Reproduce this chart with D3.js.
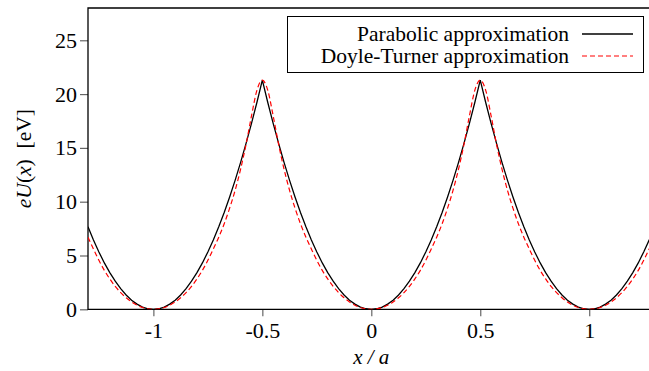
<!DOCTYPE html>
<html>
<head>
<meta charset="utf-8">
<script src="https://cdn.jsdelivr.net/npm/d3@7"></script>
<style>
  body { margin: 0; background: #fff; }
  svg text { font-family: "Liberation Serif", "DejaVu Serif", serif; fill: #000; }
</style>
</head>
<body>
<svg id="chart" width="649" height="371"></svg>
<script>
// sample grid x/a from -1.3 to 1.3, step 0.025
let xs = d3.range(0, 105).map(i => +(-1.3 + i * 0.025).toFixed(3));

// values, eV
let parabolic = [
  7.67, 6.44, 5.33, 4.31, 3.41, 2.61, 1.92, 1.33, 0.85, 0.48, 0.21, 0.05, 0,
  0.05, 0.21, 0.48, 0.85, 1.33, 1.92, 2.61, 3.41, 4.31, 5.33, 6.44, 7.67, 9.0, 10.44, 11.98, 13.63, 15.39, 17.25, 19.22, 21.3,
  19.22, 17.25, 15.39, 13.63, 11.98, 10.44, 9.0, 7.67, 6.44, 5.33, 4.31, 3.41, 2.61, 1.92, 1.33, 0.85, 0.48, 0.21, 0.05, 0,
  0.05, 0.21, 0.48, 0.85, 1.33, 1.92, 2.61, 3.41, 4.31, 5.33, 6.44, 7.67, 9.0, 10.44, 11.98, 13.63, 15.39, 17.25, 19.22, 21.3,
  19.22, 17.25, 15.39, 13.63, 11.98, 10.44, 9.0, 7.67, 6.44, 5.33, 4.31, 3.41, 2.61, 1.92, 1.33, 0.85, 0.48, 0.21, 0.05, 0,
  0.05, 0.21, 0.48, 0.85, 1.33, 1.92, 2.61, 3.41, 4.31, 5.33, 6.44, 7.67
];
let doyleTurner = [
  6.7, 5.6, 4.55, 3.62, 2.82, 2.13, 1.55, 1.07, 0.68, 0.38, 0.17, 0.04, 0,
  0.04, 0.17, 0.38, 0.68, 1.07, 1.55, 2.13, 2.82, 3.62, 4.55, 5.6, 6.7, 7.95, 9.4, 11.05, 13.0, 15.3, 17.95, 20.35, 21.3,
  20.35, 17.95, 15.3, 13.0, 11.05, 9.4, 7.95, 6.7, 5.6, 4.55, 3.62, 2.82, 2.13, 1.55, 1.07, 0.68, 0.38, 0.17, 0.04, 0,
  0.04, 0.17, 0.38, 0.68, 1.07, 1.55, 2.13, 2.82, 3.62, 4.55, 5.6, 6.7, 7.95, 9.4, 11.05, 13.0, 15.3, 17.95, 20.35, 21.3,
  20.35, 17.95, 15.3, 13.0, 11.05, 9.4, 7.95, 6.7, 5.6, 4.55, 3.62, 2.82, 2.13, 1.55, 1.07, 0.68, 0.38, 0.17, 0.04, 0,
  0.04, 0.17, 0.38, 0.68, 1.07, 1.55, 2.13, 2.82, 3.62, 4.55, 5.6, 6.7
];
let xTicks = [-1, -0.5, 0, 0.5, 1];
let xTickLabels = ['-1', '-0.5', '0', '0.5', '1'];
let yTicks = [0, 5, 10, 15, 20, 25];
let legendNames = ['Parabolic approximation', 'Doyle-Turner approximation'];

let margin = {top: 8, left: 88};
let width = 566.6;
let height = 301.3;

let xScale = d3.scaleLinear().domain([-1.3, 1.3]).range([0, width]);
let yScale = d3.scaleLinear().domain([0, 28]).range([height, 0]);

let svg = d3.select('#chart');
let g = svg.append('g').attr('transform', `translate(${margin.left},${margin.top})`);

g.append('clipPath').attr('id', 'clip')
  .append('rect').attr('width', width).attr('height', height);

// axes
let xAxis = g.append('g')
  .attr('transform', `translate(0,${height})`)
  .call(d3.axisBottom(xScale).tickValues(xTicks).tickSize(7).tickPadding(6)
    .tickFormat((d, i) => xTickLabels[i]));
let yAxis = g.append('g')
  .call(d3.axisLeft(yScale).tickValues(yTicks).tickSize(8).tickPadding(3));
[xAxis, yAxis].forEach(a => {
  a.attr('font-family', null).attr('font-size', null);
  a.select('.domain').remove();
  a.selectAll('.tick line').attr('stroke', '#666').attr('stroke-width', 1.2);
  a.selectAll('.tick text').style('font-size', '22px');
});

// frame: left, bottom, top
g.append('path')
  .attr('d', `M${width},0H0V${height}H${width}`)
  .attr('fill', 'none').attr('stroke', '#000').attr('stroke-width', 1.3);

let line = d3.line().x((d, i) => xScale(xs[i])).y(d => yScale(d));

g.append('path')
  .datum(parabolic)
  .attr('clip-path', 'url(#clip)')
  .attr('d', line)
  .attr('fill', 'none').attr('stroke', '#000').attr('stroke-width', 1.3);

g.append('path')
  .datum(doyleTurner)
  .attr('clip-path', 'url(#clip)')
  .attr('d', line.curve(d3.curveMonotoneX))
  .attr('fill', 'none').attr('stroke', '#f00').attr('stroke-width', 1.2)
  .attr('stroke-dasharray', '5,3');

// legend
let legend = svg.append('g');
legend.append('rect')
  .attr('x', 287.5).attr('y', 16.5).attr('width', 356).attr('height', 56)
  .attr('fill', '#fff').attr('stroke', '#000').attr('stroke-width', 1);
legendNames.forEach((name, i) => {
  let y = 34 + i * 22;
  legend.append('text')
    .attr('x', 569).attr('y', y + 7)
    .attr('text-anchor', 'end').style('font-size', '21.5px')
    .text(name);
  legend.append('line')
    .attr('x1', 582).attr('x2', 633).attr('y1', y).attr('y2', y)
    .attr('stroke', i === 0 ? '#000' : '#f00')
    .attr('stroke-width', i === 0 ? 1.3 : 1.2)
    .attr('stroke-dasharray', i === 0 ? null : '5,3');
});

// axis titles
svg.append('text')
  .attr('x', margin.left + xScale(0)).attr('y', 364)
  .attr('text-anchor', 'middle').style('font-size', '21px')
  .attr('font-style', 'italic')
  .text('x / a');

let yt = svg.append('text')
  .attr('transform', `translate(31,${margin.top + height / 2}) rotate(-90)`)
  .attr('text-anchor', 'middle').style('font-size', '21.5px');
yt.append('tspan').attr('font-style', 'italic').text('eU');
yt.append('tspan').text('(');
yt.append('tspan').attr('font-style', 'italic').text('x');
yt.append('tspan').text(')\u00a0\u00a0[eV]');
</script>
</body>
</html>
